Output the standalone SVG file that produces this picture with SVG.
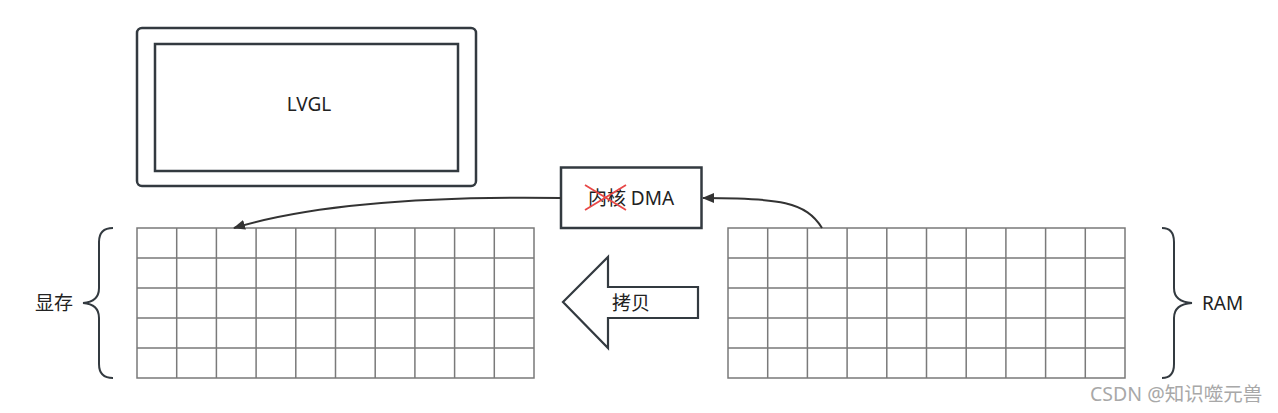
<svg xmlns="http://www.w3.org/2000/svg" width="1278" height="413" viewBox="0 0 1278 413">
<style>
.t{font-family:"Noto Sans","Noto Sans CJK SC",sans-serif;font-size:19px;fill:#222;}
.grid{fill:none;stroke:#7a7a7a;stroke-width:1.5;}
.dk{fill:none;stroke:#333a40;stroke-width:2.5;}
.con{fill:none;stroke:#333;stroke-width:2;}
</style>
<defs>
<marker id="ah" viewBox="0 0 12 10" refX="11" refY="5" markerWidth="12" markerHeight="10" markerUnits="userSpaceOnUse" orient="auto">
<path d="M0,0 L12,5 L0,10 Z" fill="#333"/>
</marker>
</defs>
<rect width="1278" height="413" fill="#fff"/>
<g id="monitor">
<rect class="dk" x="137" y="28" width="339" height="158" rx="5"/>
<rect class="dk" x="155" y="44" width="303" height="127"/>
<text class="t" x="309" y="111" text-anchor="middle">LVGL</text>
</g>
<g id="dma">
<rect x="561" y="167.5" width="140.5" height="60.5" fill="#fff" stroke="#333a40" stroke-width="2.5"/>
<text class="t" x="631" y="205" text-anchor="middle">内核 DMA</text>
<path d="M585,185 L626,210 M585,210 L626,185" stroke="#e84848" stroke-width="1.8" fill="none"/>
</g>
<g id="vram">
<path class="grid" d="M137,228 H534 V378 H137 Z M137,258 H534 M137,288 H534 M137,318 H534 M137,348 H534 M176.7,228 V378 M216.4,228 V378 M256.1,228 V378 M295.8,228 V378 M335.5,228 V378 M375.2,228 V378 M414.9,228 V378 M454.6,228 V378 M494.3,228 V378"/>
</g>
<g id="ram">
<path class="grid" d="M728,228 H1125 V378 H728 Z M728,258 H1125 M728,288 H1125 M728,318 H1125 M728,348 H1125 M767.7,228 V378 M807.4,228 V378 M847.1,228 V378 M886.8,228 V378 M926.5,228 V378 M966.2,228 V378 M1005.9,228 V378 M1045.6,228 V378 M1085.3,228 V378"/>
</g>
<g id="copy">
<polygon points="563,302 608,257 608,287 698,287 698,318 608,318 608,348" fill="#fff" stroke="#333a40" stroke-width="2.2" stroke-linejoin="miter"/>
<text class="t" x="631" y="310" text-anchor="middle">拷贝</text>
</g>
<g id="brace-left">
<path class="dk" style="stroke-width:2" d="M113,228 Q99,228 99,242 L99,288 Q99,302 83,303 Q99,304 99,318 L99,364 Q99,378 113,378"/>
<text class="t" x="35" y="310">显存</text>
</g>
<g id="brace-right">
<path class="dk" style="stroke-width:2" d="M1162,228 Q1174,228 1174,242 L1174,288 Q1174,302 1192,303 Q1174,304 1174,318 L1174,364 Q1174,378 1162,378"/>
<text class="t" x="1202" y="310">RAM</text>
</g>
<g id="connectors">
<path class="con" d="M561,198 C420,196 310,205 234,228" marker-end="url(#ah)"/>
<path class="con" d="M822,228 C806,202 780,198 703,198" marker-end="url(#ah)"/>
</g>
<text x="1090" y="401" style="font-family:'Noto Sans','Noto Sans CJK SC',sans-serif;font-size:19.5px;fill:#a8a8a8">CSDN @知识噬元兽</text>
</svg>
